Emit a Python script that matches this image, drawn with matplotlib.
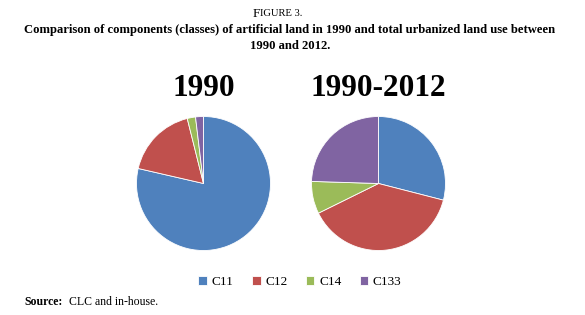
import matplotlib
matplotlib.use("Agg")
import matplotlib.pyplot as plt

categories = ["C11", "C12", "C14", "C133"]
values_1990 = [78.6, 17.5, 2.0, 1.9]
values_1990_2012 = [29.0, 38.7, 7.8, 24.5]
pie_titles = ["1990", "1990-2012"]
colors = ["#4F81BD", "#C0504D", "#9BBB59", "#8064A2"]

serif = ["Liberation Serif", "DejaVu Serif"]
plt.rcParams["font.family"] = serif

fig = plt.figure(figsize=(5.85, 3.15), dpi=100)
W, H = 585, 315

def fx(x):
    return x / W

def fy(y):
    return 1 - y / H

# Title block
fig.text(fx(260), fy(14), "F", ha="right", va="center", fontsize=9.5)
fig.text(fx(260), fy(14), "IGURE 3.", ha="left", va="center", fontsize=7.6)
fig.text(fx(290), fy(30), "Comparison of components (classes) of artificial land in 1990 and total urbanized land use between",
         ha="center", va="center", fontsize=9.1, fontweight="bold")
fig.text(fx(290), fy(46), "1990 and 2012.", ha="center", va="center", fontsize=9.1, fontweight="bold")

# Pies
r = 67
centers = [(203.5, 183.5), (378.5, 183.5)]
data = [values_1990, values_1990_2012]
wedges_all = None
for (cx, cy), vals, title in zip(centers, data, pie_titles):
    ax = fig.add_axes([fx(cx - r), fy(cy + r), 2 * r / W, 2 * r / H])
    w, _ = ax.pie(vals, colors=colors, startangle=90, counterclock=False,
                  wedgeprops=dict(edgecolor="white", linewidth=0.6))
    ax.set_xlim(-1.0, 1.0)
    ax.set_ylim(-1.0, 1.0)
    ax.set_aspect("equal")
    ax.axis("off")
    if wedges_all is None:
        wedges_all = w
    fig.text(fx(cx), fy(88), title, ha="center", va="center", fontsize=22.5, fontweight="bold")

fig.legend(wedges_all, categories, loc="center", bbox_to_anchor=(fx(300), fy(282)),
           ncol=4, frameon=False, fontsize=9.5, handlelength=0.65, handleheight=0.65,
           handletextpad=0.35, columnspacing=1.4)

# Source
fig.text(fx(24), fy(302), "Source:", ha="left", va="center", fontsize=8.5, fontweight="bold")
fig.text(fx(69), fy(302), "CLC and in-house.", ha="left", va="center", fontsize=8.5)

fig.savefig("out.png", dpi=100)
